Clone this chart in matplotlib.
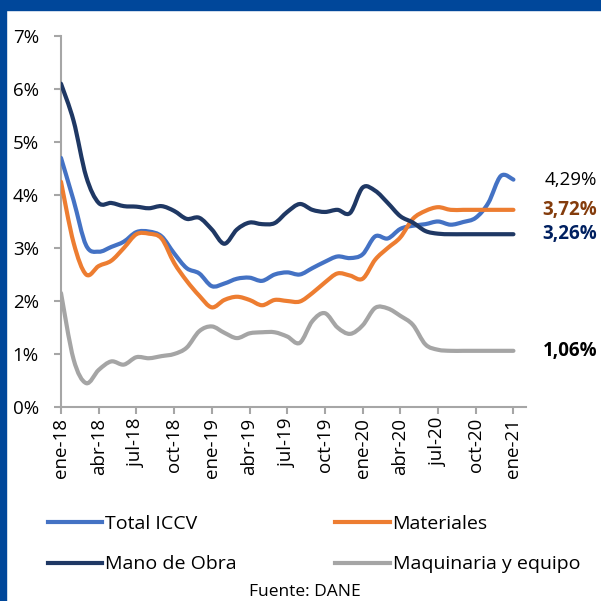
import numpy as np
import matplotlib.pyplot as plt
from matplotlib.path import Path
from matplotlib.patches import PathPatch, Rectangle
from matplotlib.lines import Line2D

plt.rcParams['font.family'] = ['Open Sans', 'DejaVu Sans']

# ---- data (% annual variation, monthly ene-18 .. ene-21) ----
tick_labels = ['ene-18', 'abr-18', 'jul-18', 'oct-18', 'ene-19', 'abr-19', 'jul-19',
               'oct-19', 'ene-20', 'abr-20', 'jul-20', 'oct-20', 'ene-21']

total_iccv = [4.70, 3.90, 3.05, 2.93, 3.02, 3.12, 3.30, 3.31, 3.22, 2.90, 2.62, 2.52, 2.28,
              2.33, 2.42, 2.44, 2.38, 2.50, 2.54, 2.50, 2.62, 2.74, 2.84, 2.81, 2.88, 3.22,
              3.18, 3.36, 3.42, 3.45, 3.50, 3.44, 3.49, 3.57, 3.85, 4.36, 4.29]
materiales = [4.25, 3.10, 2.50, 2.66, 2.76, 3.00, 3.26, 3.27, 3.18, 2.72, 2.38, 2.10, 1.88,
              2.02, 2.08, 2.02, 1.92, 2.02, 2.00, 1.99, 2.15, 2.35, 2.52, 2.48, 2.42, 2.78,
              3.00, 3.20, 3.55, 3.70, 3.77, 3.72, 3.72, 3.72, 3.72, 3.72, 3.72]
mano_obra = [6.10, 5.40, 4.35, 3.85, 3.85, 3.79, 3.78, 3.75, 3.79, 3.70, 3.55, 3.57, 3.35,
             3.08, 3.35, 3.48, 3.45, 3.47, 3.68, 3.83, 3.72, 3.68, 3.72, 3.66, 4.14, 4.08,
             3.85, 3.60, 3.48, 3.32, 3.27, 3.26, 3.26, 3.26, 3.26, 3.26, 3.26]
maquinaria = [2.15, 0.90, 0.45, 0.70, 0.86, 0.80, 0.94, 0.92, 0.96, 1.00, 1.12, 1.43, 1.52,
              1.40, 1.30, 1.39, 1.41, 1.41, 1.33, 1.21, 1.62, 1.77, 1.50, 1.38, 1.54, 1.87,
              1.86, 1.72, 1.55, 1.18, 1.08, 1.06, 1.06, 1.06, 1.06, 1.06, 1.06]

series = [
    ('Total ICCV', total_iccv, '#4472C4'),
    ('Materiales', materiales, '#ED7D31'),
    ('Mano de Obra', mano_obra, '#1F3864'),
    ('Maquinaria y equipo', maquinaria, '#A5A5A5'),
]
end_label_style = {
    'Total ICCV': ('black', 'normal'),
    'Materiales': ('#843C0C', 'bold'),
    'Mano de Obra': ('#002060', 'bold'),
    'Maquinaria y equipo': ('black', 'bold'),
}


def smooth_path(xs, ys):
    # Excel-like smoothed line: Catmull-Rom segments as cubic Beziers
    pts = np.column_stack([xs, ys]).astype(float)
    n = len(pts)
    verts = [pts[0]]
    codes = [Path.MOVETO]
    for k in range(n - 1):
        p0 = pts[k - 1] if k > 0 else pts[k]
        p1 = pts[k]
        p2 = pts[k + 1]
        p3 = pts[k + 2] if k + 2 < n else pts[k + 1]
        verts += [p1 + (p2 - p0) / 6, p2 - (p3 - p1) / 6, p2]
        codes += [Path.CURVE4] * 3
    return Path(verts, codes)


fig = plt.figure(figsize=(6.01, 6.01), dpi=100)
ax = fig.add_axes([61 / 601, 1 - 407 / 601, (526 - 61) / 601, (407 - 36) / 601])

x = np.arange(len(total_iccv))
handles = {}
for name, vals, col in series:
    patch = PathPatch(smooth_path(x, vals), fill=False, edgecolor=col, lw=3.0,
                      capstyle='round', joinstyle='round', zorder=3)
    ax.add_patch(patch)
    handles[name] = Line2D([0], [0], color=col, lw=3.0, label=name)
    c, w = end_label_style[name]
    txt = '{:.2f}%'.format(vals[-1]).replace('.', ',')
    ax.annotate(txt, xy=(x[-1], vals[-1]), xytext=(60.5, 0), textcoords='offset points',
                ha='right', va='center', fontsize=13.5, color=c, fontweight=w,
                annotation_clip=False)

ax.set_xlim(0, 37)
ax.set_ylim(0, 7)
ax.set_xticks(np.arange(0, 37, 3))
ax.set_xticklabels(tick_labels, rotation=90, fontsize=13.5)
ax.set_yticks(np.arange(0, 8))
ax.set_yticklabels(['{}%'.format(v) for v in range(8)], fontsize=13.5)

for s in ['top', 'right']:
    ax.spines[s].set_visible(False)
for s in ['left', 'bottom']:
    ax.spines[s].set_color('#A6A6A6')
    ax.spines[s].set_linewidth(1.5)
ax.tick_params(axis='both', colors='#A6A6A6', width=1.5, length=5, labelcolor='black')
ax.tick_params(axis='y', pad=11)
ax.tick_params(axis='x', pad=3)

# legend filled column-wise: row 1 Total / Materiales, row 2 Mano de Obra / Maquinaria
order = ['Total ICCV', 'Mano de Obra', 'Materiales', 'Maquinaria y equipo']
fig.legend(handles=[handles[k] for k in order], loc='upper left',
           bbox_to_anchor=(48 / 601, 1 - 515 / 601),
           ncol=2, frameon=False, fontsize=14, handlelength=2.8, handletextpad=0.15,
           columnspacing=5.05, labelspacing=1.15, borderaxespad=0, borderpad=0)

fig.text(305 / 601, 1 - 592 / 601, 'Fuente: DANE', ha='center', va='center', fontsize=12.5)

# blue frame
frame_col = '#00479A'
fig.add_artist(Rectangle((0, 1 - 10 / 601), 1, 10 / 601, transform=fig.transFigure,
                         color=frame_col, zorder=10))
fig.add_artist(Rectangle((0, 0), 6 / 601, 1, transform=fig.transFigure,
                         color=frame_col, zorder=10))

fig.savefig('out.png', dpi=100)
